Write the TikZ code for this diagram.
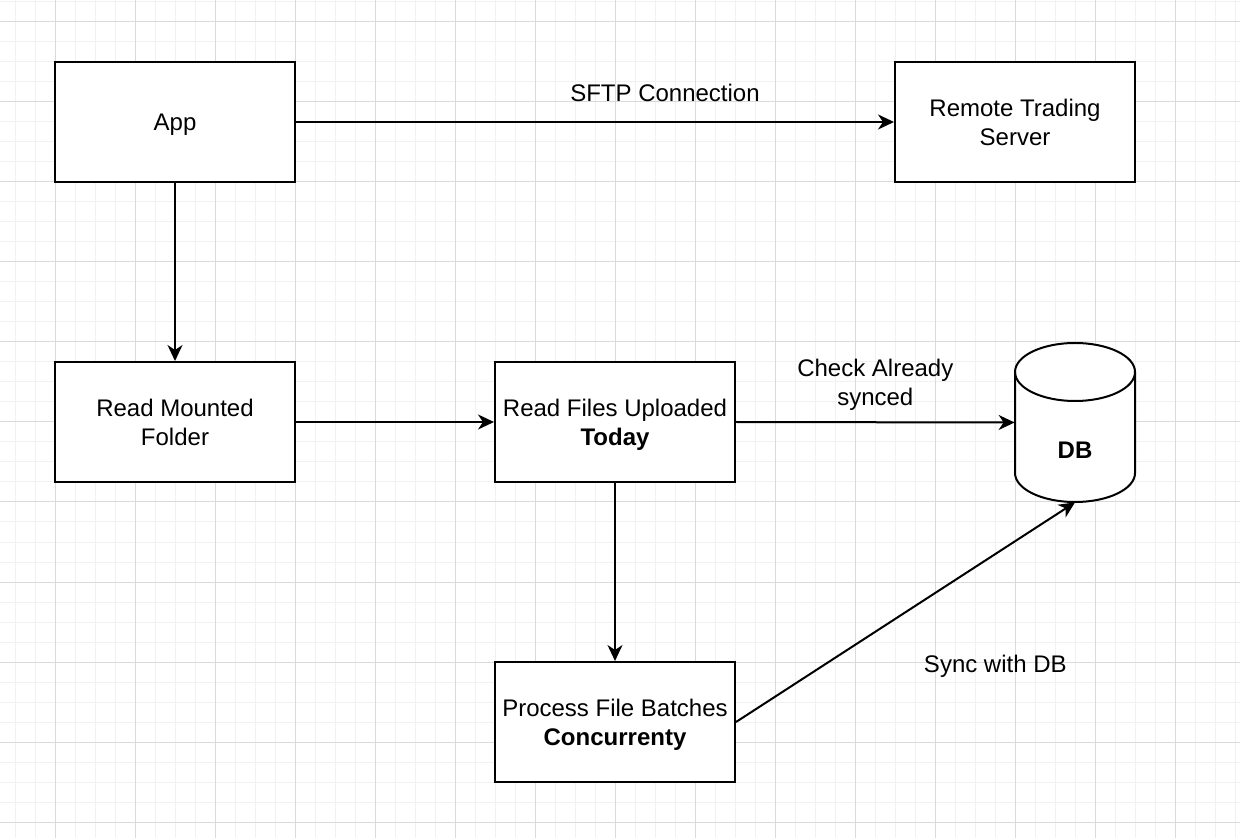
\documentclass[tikz,border=0pt]{standalone}
\usepackage{fontspec}
\setmainfont{Liberation Sans}
\usetikzlibrary{arrows.meta}
\begin{document}
\begin{tikzpicture}[x=0.5pt,y=-0.5pt,
  box/.style={draw=black,line width=1pt,fill=white,minimum width=120pt,minimum height=60pt,inner sep=0pt},
  lbl/.style={align=center,inner sep=0pt,font=\fontsize{12pt}{14.5pt}\selectfont},
  conn/.style={line width=1pt,-{Stealth[length=8pt,width=7.5pt,inset=2.5pt]}},
  minorgrid/.style={draw={rgb,255:red,241;green,241;blue,241},line width=0.5pt},
  majorgrid/.style={draw={rgb,255:red,218;green,218;blue,218},line width=0.5pt}]
\useasboundingbox (0,0) rectangle (1240,838);
\fill[white] (0,0) rectangle (1240,838);
\foreach \x in {15,35,...,1235} \draw[minorgrid] (\x,0) -- (\x,838);
\foreach \y in {2,22,...,838} \draw[minorgrid] (0,\y) -- (1240,\y);
\foreach \x in {55,135,...,1235} \draw[majorgrid] (\x,0) -- (\x,838);
\foreach \y in {22,102,...,838} \draw[majorgrid] (0,\y) -- (1240,\y);

\node[box,label={[lbl,yshift=-1.5pt]center:App}] (app) at (175,122) {};
\node[box,label={[lbl]center:Remote Trading\\Server}] (remote) at (1015,122) {};
\node[box,label={[lbl]center:Read Mounted\\Folder}] (mounted) at (175,422) {};
\node[box,label={[lbl,yshift=-1.5pt]center:Read Files Uploaded\\\textbf{Today}}] (files) at (615,422) {};
\node[box,label={[lbl,yshift=-1.5pt]center:Process File Batches\\\textbf{Concurrenty}}] (process) at (615,722) {};

% DB cylinder
\fill[white] (1015,372) arc[start angle=180,end angle=0,x radius=30pt,y radius=14.5pt]
  -- (1135,473) arc[start angle=0,end angle=-180,x radius=30pt,y radius=14.5pt] -- cycle;
\draw[line width=1pt] (1015,372) arc[start angle=180,end angle=0,x radius=30pt,y radius=14.5pt]
  -- (1135,473) arc[start angle=0,end angle=-180,x radius=30pt,y radius=14.5pt] -- cycle;
\draw[line width=1pt] (1015,372) arc[start angle=180,end angle=360,x radius=30pt,y radius=14.5pt];
\node[minimum width=60pt,minimum height=79.5pt,inner sep=0pt] (db) at (1075,422.5) {};
\node[lbl] at (1075,450) {\textbf{DB}};

\draw[conn] (app) -- (remote) node[lbl,pos=0.617,yshift=14.5pt] {SFTP Connection};
\draw[conn] (app) -- (mounted);
\draw[conn] (mounted) -- (files);
\draw[conn] (files.east) -- (db.west) node[lbl,pos=0.5,yshift=18.5pt] {Check Already\\synced};
\draw[conn] (files) -- (process);
\draw[conn] (process.east) -- (db.south) node[lbl,pos=0.765,yshift=-56pt] {Sync with DB};
\end{tikzpicture}
\end{document}
